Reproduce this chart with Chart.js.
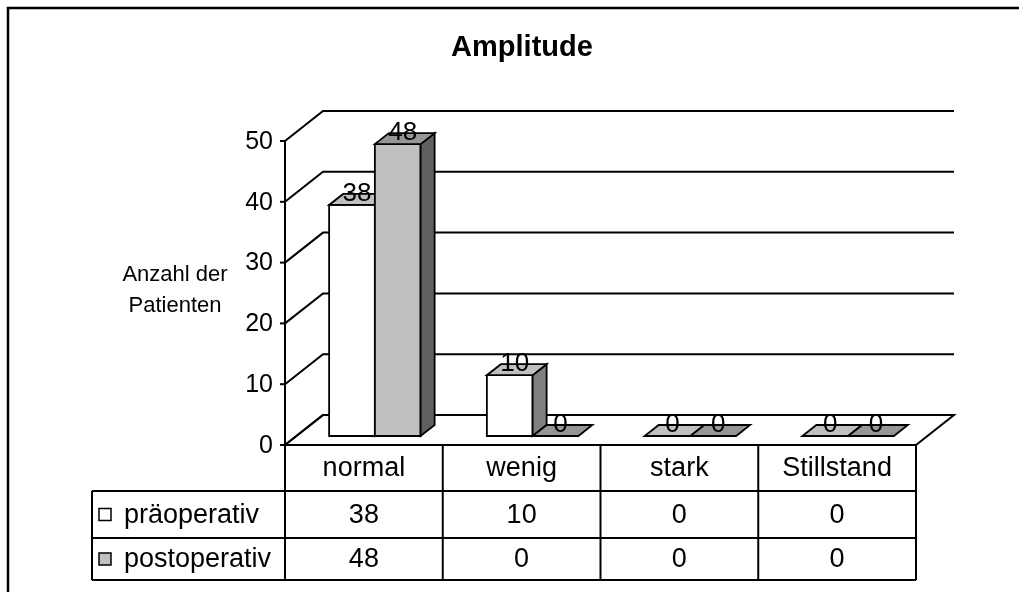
<!DOCTYPE html>
<html>
<head>
<meta charset="utf-8">
<script src="https://cdn.jsdelivr.net/npm/chart.js@4.4.0/dist/chart.umd.min.js"></script>
<style>
  html, body { margin: 0; padding: 0; background: #fff; }
  canvas { display: block; }
</style>
</head>
<body>
<canvas id="chart" width="1019" height="592"></canvas>
<script>
const categories = ['normal', 'wenig', 'stark', 'Stillstand'];
const seriesNames = ['präoperativ', 'postoperativ'];
const preValues = [38, 10, 0, 0];
const postValues = [48, 0, 0, 0];
const chartTitle = 'Amplitude';
const axisTitle = ['Anzahl der', 'Patienten'];

const FONT = '"Liberation Sans", Arial, sans-serif';
const FRONT_DX = 11, FRONT_DY = 9;   // bars stand this far behind the front edge
const WALL_DX = 38, WALL_DY = 30;    // depth of floor and side wall
const BAR_DX = 14, BAR_DY = 11;      // depth of a single bar
const faces = [
  { front: '#ffffff', top: '#c0c0c0', side: '#808080' },
  { front: '#c0c0c0', top: '#969696', side: '#606060' }
];
const rowBottoms = [491, 538, 580];  // table rows under the floor edge
const legendLeft = 92;

function line(ctx, pts) {
  ctx.beginPath();
  ctx.moveTo(pts[0][0], pts[0][1]);
  for (let k = 1; k < pts.length; k++) ctx.lineTo(pts[k][0], pts[k][1]);
  ctx.stroke();
}

function poly(ctx, pts, fill) {
  ctx.beginPath();
  ctx.moveTo(pts[0][0], pts[0][1]);
  for (let k = 1; k < pts.length; k++) ctx.lineTo(pts[k][0], pts[k][1]);
  ctx.closePath();
  ctx.fillStyle = fill;
  ctx.fill();
  ctx.stroke();
}

const plot3d = {
  id: 'plot3d',
  beforeDatasetsDraw(chart) {
    const ctx = chart.ctx, ys = chart.scales.y, area = chart.chartArea;
    const fl = area.left - FRONT_DX, fr = area.right - FRONT_DX;
    const fy = v => ys.getPixelForValue(v) + FRONT_DY;
    ctx.save();
    ctx.strokeStyle = '#000';
    ctx.lineJoin = 'miter';

    // outer frame
    ctx.lineWidth = 2.5;
    line(ctx, [[8, chart.height + 5], [8, 8], [chart.width + 5, 8]]);

    // floor
    ctx.lineWidth = 2;
    const y0 = fy(0);
    poly(ctx, [[fl, y0], [fr, y0], [fr + WALL_DX, y0 - WALL_DY], [fl + WALL_DX, y0 - WALL_DY]], '#ffffff');

    // wall grid, axis ticks and labels
    ctx.font = '25px ' + FONT;
    ctx.fillStyle = '#000';
    ctx.textAlign = 'right';
    ctx.textBaseline = 'middle';
    ys.ticks.forEach(t => {
      const yy = fy(t.value);
      line(ctx, [[fl, yy], [fl + WALL_DX, yy - WALL_DY], [fr + WALL_DX, yy - WALL_DY]]);
      line(ctx, [[fl - 5, yy], [fl, yy]]);
      ctx.fillText(String(t.value), fl - 12, yy + 1);
    });

    // vertical axis, runs down through the table
    line(ctx, [[fl, fy(ys.max)], [fl, rowBottoms[rowBottoms.length - 1]]]);
    ctx.restore();
  },
  afterDatasetsDraw(chart) {
    const ctx = chart.ctx;
    ctx.save();
    ctx.strokeStyle = '#000';
    ctx.lineWidth = 1.8;
    ctx.lineJoin = 'miter';
    // bars, first series first so the second one covers its side face
    chart.data.datasets.forEach((ds, i) => {
      const f = faces[i];
      chart.getDatasetMeta(i).data.forEach(bar => {
        const p = bar.getProps(['x', 'y', 'base', 'width'], true);
        const l = p.x - p.width / 2, r = p.x + p.width / 2, t = p.y, b = p.base;
        if (b - t > 1) {
          poly(ctx, [[l, t], [r, t], [r, b], [l, b]], f.front);
          poly(ctx, [[r, t], [r, b], [r + BAR_DX, b - BAR_DY], [r + BAR_DX, t - BAR_DY]], f.side);
        }
        poly(ctx, [[l, t], [r, t], [r + BAR_DX, t - BAR_DY], [l + BAR_DX, t - BAR_DY]], f.top);
      });
    });

    // value labels
    ctx.font = '26px ' + FONT;
    ctx.fillStyle = '#000';
    ctx.textAlign = 'center';
    ctx.textBaseline = 'middle';
    chart.data.datasets.forEach((ds, i) => {
      chart.getDatasetMeta(i).data.forEach((bar, j) => {
        const p = bar.getProps(['x', 'y'], true);
        ctx.fillText(String(ds.data[j]), p.x + BAR_DX / 2 - 2, p.y - BAR_DY);
      });
    });
    ctx.restore();
  },
  afterDraw(chart) {
    const ctx = chart.ctx, xs = chart.scales.x, ys = chart.scales.y, area = chart.chartArea;
    const fl = area.left - FRONT_DX, fr = area.right - FRONT_DX;
    const top = ys.getPixelForValue(0) + FRONT_DY;
    const n = categories.length;
    ctx.save();
    ctx.strokeStyle = '#000';
    ctx.lineWidth = 2;

    // table lines
    line(ctx, [[fr, top], [fr, rowBottoms[2]]]);
    for (let i = 1; i < n; i++) {
      const xx = fl + i * (fr - fl) / n;
      line(ctx, [[xx, top], [xx, rowBottoms[2]]]);
    }
    line(ctx, [[legendLeft, rowBottoms[0]], [fr, rowBottoms[0]]]);
    line(ctx, [[legendLeft, rowBottoms[1]], [fr, rowBottoms[1]]]);
    line(ctx, [[legendLeft, rowBottoms[2]], [fr, rowBottoms[2]]]);
    line(ctx, [[legendLeft, rowBottoms[0]], [legendLeft, rowBottoms[2]]]);

    // table text
    ctx.fillStyle = '#000';
    ctx.font = '27px ' + FONT;
    ctx.textAlign = 'center';
    ctx.textBaseline = 'middle';
    const rowMid = [(top + rowBottoms[0]) / 2, (rowBottoms[0] + rowBottoms[1]) / 2, (rowBottoms[1] + rowBottoms[2]) / 2];
    categories.forEach((c, i) => {
      const cx = xs.getPixelForValue(i) - FRONT_DX;
      ctx.fillText(c, cx, rowMid[0] + 1);
      chart.data.datasets.forEach((ds, k) => ctx.fillText(String(ds.data[i]), cx, rowMid[k + 1] + 1));
    });

    // legend keys
    ctx.textAlign = 'left';
    ctx.lineWidth = 1.5;
    seriesNames.forEach((s, k) => {
      ctx.fillStyle = faces[k].front;
      ctx.fillRect(99, rowMid[k + 1] - 6, 12, 12);
      ctx.strokeRect(99, rowMid[k + 1] - 6, 12, 12);
      ctx.fillStyle = '#000';
      ctx.fillText(s, 124, rowMid[k + 1] + 1);
    });

    // titles
    ctx.textAlign = 'center';
    ctx.font = '22px ' + FONT;
    ctx.fillText(axisTitle[0], 175, 275);
    ctx.fillText(axisTitle[1], 175, 306);
    ctx.font = 'bold 29px ' + FONT;
    ctx.fillText(chartTitle, 522, 48);
    ctx.restore();
  }
};

new Chart(document.getElementById('chart'), {
  type: 'bar',
  data: {
    labels: categories,
    datasets: [
      { label: seriesNames[0], data: preValues, backgroundColor: faces[0].front, borderWidth: 0 },
      { label: seriesNames[1], data: postValues, backgroundColor: faces[1].front, borderWidth: 0 }
    ]
  },
  options: {
    responsive: false,
    animation: false,
    layout: { padding: { left: 296, right: 92, top: 132, bottom: 156 } },
    datasets: { bar: { categoryPercentage: 0.58, barPercentage: 1.0 } },
    scales: {
      x: { display: false },
      y: { display: false, min: 0, max: 50, ticks: { stepSize: 10 } }
    },
    plugins: { legend: { display: false }, tooltip: { enabled: false }, title: { display: false } }
  },
  plugins: [plot3d]
});
</script>
</body>
</html>
